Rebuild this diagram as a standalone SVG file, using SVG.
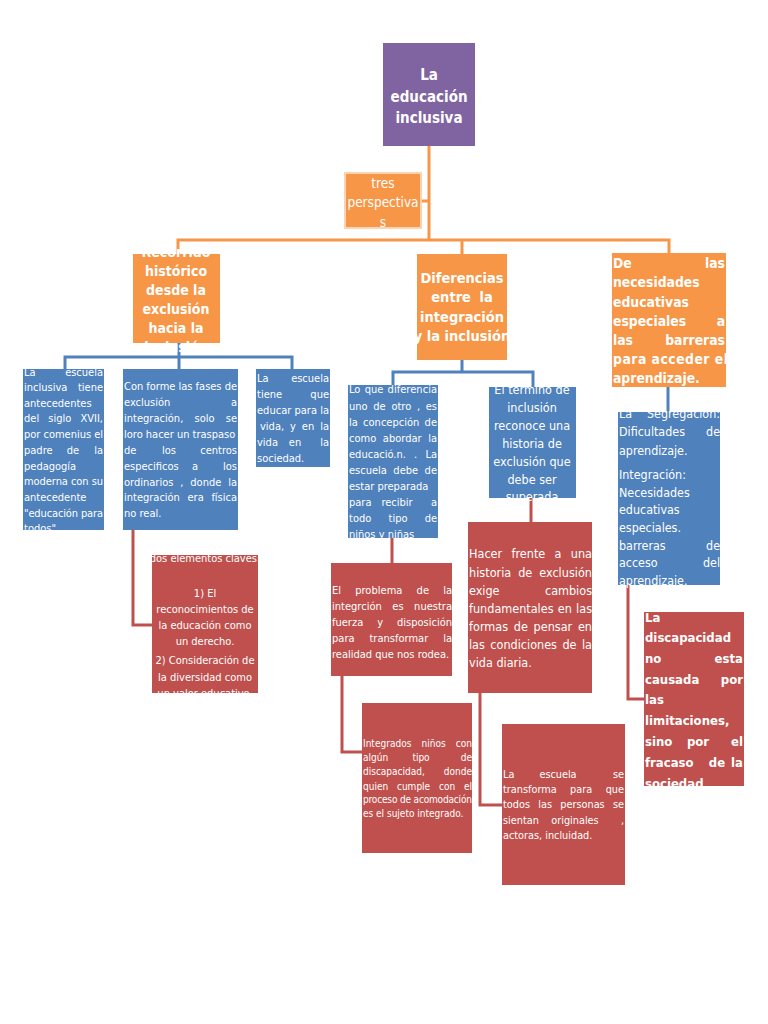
<svg xmlns="http://www.w3.org/2000/svg" width="768" height="1024" viewBox="0 0 768 1024">
<style>
text{font-family:"DejaVu Sans Condensed","DejaVu Sans",sans-serif;font-stretch:condensed;fill:#ffffff}
.b{font-weight:bold}
.c{text-anchor:middle}
.r{text-anchor:end}
.f11{font-size:11px}
.f10{font-size:10px}
.conn{fill:none;stroke-width:3}
.oc{stroke:#F79646}
.bc{stroke:#4F81BD}
.rc{stroke:#C0504D}
.pu{fill:#8064A2}
.or{fill:#F79646}
.bl{fill:#4F81BD}
.rd{fill:#C0504D}
</style>
<rect width="768" height="1024" fill="#ffffff"/>
<g id="connectors">
<path class="conn oc" d="M429,146 V240 M421,201 H429 M178,254 V240 H669 V253 M462,240 V254"/>
<path class="conn bc" d="M179,343 V369 M65,369 V357 H292 V369 M462,360 V372 M393,385 V372 H533 V387 M668,387 V412"/>
<path class="conn rc" d="M133,530 V625 H152 M392,538 V563 M531,498 V522 M342,676 V752 H362 M480,693 V805 H502 M628,585 V699 H645"/>
</g>
<g id="title">
<rect class="pu" x="383" y="43" width="92" height="103"/>
<text class="b c" font-size="15" x="429" y="80">La</text>
<text class="b c" font-size="15" x="429" y="102">educación</text>
<text class="b c" font-size="15" x="429" y="123">inclusiva</text>
</g>
<g id="tres">
<rect class="or" x="345" y="173" width="76" height="55" stroke="#FBD4B4" stroke-width="2"/>
<text class="c" font-size="13.5" x="383" y="188">tres</text>
<text class="c" font-size="13.5" x="383" y="207">perspectiva</text>
<text class="c" font-size="13.5" x="383" y="227">s</text>
</g>
<g id="recorrido">
<rect class="or" x="133" y="254" width="87" height="89"/>
<text class="b c" font-size="14" x="176" y="257">Recorrido</text>
<text class="b c" font-size="14" x="176" y="276">histórico</text>
<text class="b c" font-size="14" x="176" y="295">desde la</text>
<text class="b c" font-size="14" x="176" y="314">exclusión</text>
<text class="b c" font-size="14" x="176" y="333">hacia la</text>
<text class="b c" font-size="14" x="176" y="352">inclusión</text>
</g>
<g id="diferencias">
<rect class="or" x="417" y="254" width="90" height="106"/>
<text class="b c" font-size="14.5" x="462" y="283">Diferencias</text>
<text class="b c" font-size="14.5" x="462" y="302" word-spacing="4">entre la</text>
<text class="b c" font-size="14.5" x="462" y="322">integración</text>
<text class="b c" font-size="14.5" x="462" y="341">y la inclusión</text>
</g>
<g id="necesidades">
<rect class="or" x="612" y="253" width="114" height="134"/>
<text class="b" font-size="13.8" x="613" y="268">De</text>
<text class="b r" font-size="13.8" x="725" y="268">las</text>
<text class="b" font-size="13.8" x="613" y="287">necesidades</text>
<text class="b" font-size="13.8" x="613" y="307">educativas</text>
<text class="b" font-size="13.8" x="613" y="326">especiales</text>
<text class="b r" font-size="13.8" x="725" y="326">a</text>
<text class="b" font-size="13.8" x="613" y="345">las</text>
<text class="b r" font-size="13.8" x="725" y="345">barreras</text>
<text class="b" font-size="13.8" x="613" y="364" textLength="115" lengthAdjust="spacing">para acceder el</text>
<text class="b" font-size="13.8" x="613" y="383">aprendizaje.</text>
</g>
<g id="antecedentes">
<rect class="bl" x="23" y="369" width="81" height="161"/>
<text class="f11" x="24" y="376">La</text>
<text class="f11 r" x="103" y="376">escuela</text>
<text class="f11" x="24" y="391">inclusiva</text>
<text class="f11 r" x="103" y="391">tiene</text>
<text class="f11" x="24" y="407">antecedentes</text>
<text class="f11" x="24" y="422" word-spacing="6" textLength="79" lengthAdjust="spacing">del siglo XVII,</text>
<text class="f11" x="24" y="438" textLength="79" lengthAdjust="spacing">por comenius el</text>
<text class="f11" x="24" y="454">padre</text>
<text class="f11 c" x="73" y="454">de</text>
<text class="f11 r" x="103" y="454">la</text>
<text class="f11" x="24" y="470">pedagogía</text>
<text class="f11" x="24" y="485" textLength="79" lengthAdjust="spacing">moderna con su</text>
<text class="f11" x="24" y="501">antecedente</text>
<text class="f11" x="24" y="517" textLength="79" lengthAdjust="spacing">"educación para</text>
<text class="f11" x="24" y="532">todos"</text>
</g>
<g id="fases">
<rect class="bl" x="123" y="369" width="115" height="161"/>
<text class="f11" x="124" y="390" textLength="113" lengthAdjust="spacing">Con forme las fases de</text>
<text class="f11" x="124" y="406">exclusión</text>
<text class="f11 r" x="237" y="406">a</text>
<text class="f11" x="124" y="422" word-spacing="8" textLength="113" lengthAdjust="spacing">integración, solo se</text>
<text class="f11" x="124" y="438">loro hacer un traspaso</text>
<text class="f11" x="124" y="454">de</text>
<text class="f11 c" x="169" y="454">los</text>
<text class="f11 r" x="237" y="454">centros</text>
<text class="f11" x="124" y="470">especificos</text>
<text class="f11 c" x="195" y="470">a</text>
<text class="f11 r" x="237" y="470">los</text>
<text class="f11" x="124" y="486" word-spacing="3.7" textLength="113" lengthAdjust="spacing">ordinarios , donde la</text>
<text class="f11" x="124" y="501" word-spacing="4.5" textLength="113" lengthAdjust="spacing">integración era física</text>
<text class="f11" x="124" y="517">no real.</text>
</g>
<g id="vida">
<rect class="bl" x="256" y="369" width="74" height="98"/>
<text class="f11" x="257" y="382">La</text>
<text class="f11 r" x="329" y="382">escuela</text>
<text class="f11" x="257" y="398">tiene</text>
<text class="f11 r" x="329" y="398">que</text>
<text class="f11" x="257" y="414" textLength="72" lengthAdjust="spacing">educar para la</text>
<text class="f11" x="260" y="430" word-spacing="2.8" textLength="69" lengthAdjust="spacing">vida, y en la</text>
<text class="f11" x="257" y="446">vida</text>
<text class="f11 c" x="295" y="446">en</text>
<text class="f11 r" x="329" y="446">la</text>
<text class="f11" x="257" y="462">sociedad.</text>
</g>
<g id="diferencia">
<rect class="bl" x="348" y="385" width="90" height="153"/>
<text class="f11" x="349" y="393" word-spacing="1" textLength="88" lengthAdjust="spacing">Lo que diferencia</text>
<text class="f11" x="349" y="410" word-spacing="2.5" textLength="88" lengthAdjust="spacing">uno de otro , es</text>
<text class="f11" x="349" y="426" word-spacing="2" textLength="88" lengthAdjust="spacing">la concepción de</text>
<text class="f11" x="349" y="442" word-spacing="3.4" textLength="88" lengthAdjust="spacing">como abordar la</text>
<text class="f11" x="349" y="458" word-spacing="5" textLength="88" lengthAdjust="spacing">educació.n. . La</text>
<text class="f11" x="349" y="474" word-spacing="3.3" textLength="88" lengthAdjust="spacing">escuela debe de</text>
<text class="f11" x="349" y="490">estar preparada</text>
<text class="f11" x="349" y="506">para</text>
<text class="f11 c" x="397" y="506">recibir</text>
<text class="f11 r" x="437" y="506">a</text>
<text class="f11" x="349" y="522">todo</text>
<text class="f11 c" x="398" y="522">tipo</text>
<text class="f11 r" x="437" y="522">de</text>
<text class="f11" x="349" y="538">niños y niñas</text>
</g>
<g id="termino">
<rect class="bl" x="489" y="387" width="87" height="111"/>
<text class="c" font-size="12.5" x="532" y="394">El termino de</text>
<text class="c" font-size="12.5" x="532" y="412">inclusión</text>
<text class="c" font-size="12.5" x="532" y="430">reconoce una</text>
<text class="c" font-size="12.5" x="532" y="448">historia de</text>
<text class="c" font-size="12.5" x="532" y="466">exclusión que</text>
<text class="c" font-size="12.5" x="532" y="484">debe ser</text>
<text class="c" font-size="12.5" x="532" y="501">superada</text>
</g>
<g id="segregacion">
<rect class="bl" x="618" y="412" width="102" height="173"/>
<text font-size="12.4" x="619" y="418">La</text>
<text class="r" font-size="12.4" x="720" y="418">Segregación:</text>
<text font-size="12.4" x="619" y="436">Dificultades</text>
<text class="r" font-size="12.4" x="720" y="436">de</text>
<text font-size="12.4" x="619" y="454.5">aprendizaje.</text>
<text font-size="12.4" x="619" y="479">Integración:</text>
<text font-size="12.4" x="619" y="496.5">Necesidades</text>
<text font-size="12.4" x="619" y="513.5">educativas</text>
<text font-size="12.4" x="619" y="531.5">especiales.</text>
<text font-size="12.4" x="619" y="549.5">barreras</text>
<text class="r" font-size="12.4" x="720" y="549.5">de</text>
<text font-size="12.4" x="619" y="566.5">acceso</text>
<text class="r" font-size="12.4" x="720" y="566.5">del</text>
<text font-size="12.4" x="619" y="584.5">aprendizaje.</text>
</g>
<g id="elementos">
<rect class="rd" x="152" y="555" width="106" height="138"/>
<text class="f11 c" x="205" y="562">dos elementos claves:</text>
<text class="f11 c" x="205" y="596.5">1) El</text>
<text class="f11 c" x="205" y="613">reconocimientos de</text>
<text class="f11 c" x="205" y="629">la educación como</text>
<text class="f11 c" x="205" y="645">un derecho.</text>
<text class="f11 c" x="205" y="664">2) Consideración de</text>
<text class="f11 c" x="205" y="680.5">la diversidad como</text>
<text class="f11 c" x="205" y="696.5">un valor educativo.</text>
</g>
<g id="problema">
<rect class="rd" x="331" y="563" width="121" height="113"/>
<text class="f11" x="332" y="594" word-spacing="11" textLength="120" lengthAdjust="spacing">El problema de la</text>
<text class="f11" x="332" y="610" word-spacing="7.4" textLength="120" lengthAdjust="spacing">integrción es nuestra</text>
<text class="f11" x="332" y="626" word-spacing="10.8" textLength="120" lengthAdjust="spacing">fuerza y disposición</text>
<text class="f11" x="332" y="642" word-spacing="11.7" textLength="120" lengthAdjust="spacing">para transformar la</text>
<text class="f11" x="332" y="658">realidad que nos rodea.</text>
</g>
<g id="hacer">
<rect class="rd" x="468" y="522" width="124" height="171"/>
<text font-size="12.5" x="469" y="557.5" word-spacing="5.7" textLength="123" lengthAdjust="spacing">Hacer frente a una</text>
<text font-size="12.5" x="469" y="576.5" word-spacing="3.3" textLength="123" lengthAdjust="spacing">historia de exclusión</text>
<text font-size="12.5" x="469" y="595">exige</text>
<text class="r" font-size="12.5" x="592" y="595">cambios</text>
<text font-size="12.5" x="469" y="613" word-spacing="0.7" textLength="123" lengthAdjust="spacing">fundamentales en las</text>
<text font-size="12.5" x="469" y="631" word-spacing="2.1" textLength="123" lengthAdjust="spacing">formas de pensar en</text>
<text font-size="12.5" x="469" y="648.5" word-spacing="1.9" textLength="123" lengthAdjust="spacing">las condiciones de la</text>
<text font-size="12.5" x="469" y="666.5">vida diaria.</text>
</g>
<g id="integrados">
<rect class="rd" x="362" y="703" width="110" height="150"/>
<text class="f10" x="363" y="747" word-spacing="7.3" textLength="109" lengthAdjust="spacing">Integrados niños con</text>
<text class="f10" x="363" y="761">algún</text>
<text class="f10 c" x="421" y="761">tipo</text>
<text class="f10 r" x="472" y="761">de</text>
<text class="f10" x="363" y="775">discapacidad,</text>
<text class="f10 r" x="472" y="775">donde</text>
<text class="f10" x="363" y="789.5" word-spacing="6" textLength="109" lengthAdjust="spacing">quien cumple con el</text>
<text class="f10" x="363" y="803" textLength="109" lengthAdjust="spacing">proceso de acomodación</text>
<text class="f10" x="363" y="816.5">es el sujeto integrado.</text>
</g>
<g id="transforma">
<rect class="rd" x="502" y="724" width="123" height="161"/>
<text font-size="10.8" x="503" y="777.5">La</text>
<text class="c" font-size="10.8" x="558" y="777.5">escuela</text>
<text class="r" font-size="10.8" x="624" y="777.5">se</text>
<text font-size="10.8" x="503" y="792.5" word-spacing="10.3" textLength="121" lengthAdjust="spacing">transforma para que</text>
<text font-size="10.8" x="503" y="808" word-spacing="5.2" textLength="121" lengthAdjust="spacing">todos las personas se</text>
<text font-size="10.8" x="503" y="823.5">sientan</text>
<text class="c" font-size="10.8" x="575" y="823.5">originales</text>
<text class="r" font-size="10.8" x="624" y="823.5">,</text>
<text font-size="10.8" x="503" y="839">actoras, incluidad.</text>
</g>
<g id="discapacidad">
<rect class="rd" x="644" y="612" width="100" height="174"/>
<text class="b" font-size="13" x="645" y="622">La</text>
<text class="b" font-size="13" x="645" y="642">discapacidad</text>
<text class="b" font-size="13" x="645" y="663">no</text>
<text class="b r" font-size="13" x="743" y="663">esta</text>
<text class="b" font-size="13" x="645" y="684">causada</text>
<text class="b r" font-size="13" x="743" y="684">por</text>
<text class="b" font-size="13" x="645" y="704">las</text>
<text class="b" font-size="13" x="645" y="725">limitaciones,</text>
<text class="b" font-size="13" x="645" y="746">sino</text>
<text class="b c" font-size="13" x="698" y="746">por</text>
<text class="b r" font-size="13" x="743" y="746">el</text>
<text class="b" font-size="13" x="645" y="767">fracaso</text>
<text class="b c" font-size="13" x="717" y="767">de</text>
<text class="b r" font-size="13" x="743" y="767">la</text>
<text class="b" font-size="13" x="645" y="788">sociedad</text>
</g>
</svg>
